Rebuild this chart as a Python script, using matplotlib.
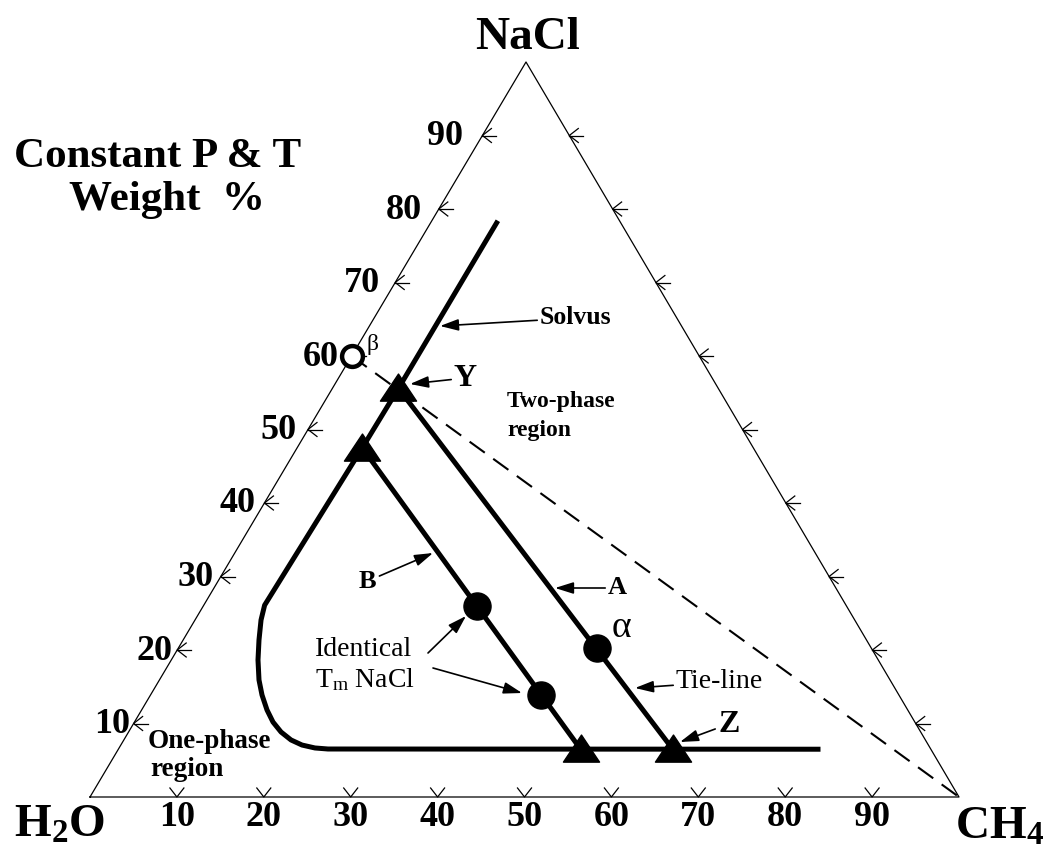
import matplotlib
matplotlib.use("Agg")
import matplotlib.pyplot as plt
from matplotlib.path import Path

plt.rcParams['font.family'] = ['Liberation Serif', 'DejaVu Serif']
plt.rcParams['mathtext.fontset'] = 'custom'
plt.rcParams['mathtext.rm'] = 'Liberation Serif'
plt.rcParams['mathtext.bf'] = 'Liberation Serif:bold'
plt.rcParams['mathtext.it'] = 'Liberation Serif:italic'

# compositions in weight %: (CH4, NaCl), H2O makes up the rest
solvus_ch4 = [7.6, 7.6, 7.5, 7.0, 7.6, 8.73, 9.98, 11.46, 12.83, 14.43, 15.94,
              17.55, 19.24, 20.85, 22.54, 24.11, 80.8]
solvus_nacl = [78.4, 55.6, 47.5, 26.1, 24.08, 21.36, 18.64, 15.92, 13.88, 11.84, 10.2,
               8.84, 7.76, 7.07, 6.67, 6.53, 6.5]

tie_a_ch4 = [7.6, 63.8]
tie_a_nacl = [55.6, 6.5]
tie_b_ch4 = [7.5, 53.2]
tie_b_nacl = [47.5, 6.5]

tri_ch4 = [7.6, 7.5, 53.2, 63.8]
tri_nacl = [55.6, 47.5, 6.5, 6.5]

dot_ch4 = [31.5, 44.9, 48.2]
dot_nacl = [26.0, 13.9, 20.3]

beta_ch4 = [0.0]
beta_nacl = [60.0]

dash_ch4 = [0.0, 100.0]
dash_nacl = [60.0, 0.0]

tick_vals = [10, 20, 30, 40, 50, 60, 70, 80, 90]

# triangle corners on the canvas (pixels)
H2O_XY = (90.0, 797.0)
CH4_XY = (959.0, 797.0)
NACL_XY = (526.0, 62.0)


def tern(ch4, nacl):
    c = [v / 100.0 for v in ch4]
    n = [v / 100.0 for v in nacl]
    x = [H2O_XY[0] + ci * (CH4_XY[0] - H2O_XY[0]) + ni * (NACL_XY[0] - H2O_XY[0]) for ci, ni in zip(c, n)]
    y = [H2O_XY[1] + ci * (CH4_XY[1] - H2O_XY[1]) + ni * (NACL_XY[1] - H2O_XY[1]) for ci, ni in zip(c, n)]
    return x, y


fig = plt.figure(figsize=(10.52, 8.56), dpi=100)
ax = fig.add_axes([0, 0, 1, 1])
ax.set_xlim(0, 1052)
ax.set_ylim(856, 0)
ax.axis('off')

# outline
ox, oy = tern([0, 100, 0, 0], [0, 0, 100, 0])
ax.plot(ox, oy, color='k', lw=0.9, zorder=1)

# ticks
for t in tick_vals:
    bx, by = tern([t], [0])
    ax.plot([bx[0] - 7, bx[0], bx[0] + 7], [by[0] - 9, by[0], by[0] - 9], color='k', lw=0.9)
    ax.text(bx[0], by[0] + 21, str(t), ha='center', va='center', fontsize=26, fontweight='bold')
    lx, ly = tern([0], [t])
    ax.plot([lx[0] + 9, lx[0], lx[0] + 9], [ly[0] - 7, ly[0], ly[0] + 7], color='k', lw=0.9)
    ax.plot([lx[0], lx[0] + 14], [ly[0], ly[0]], color='k', lw=0.9)
    gap = 3 + 2.0 * (t - 10) / 10
    ax.text(lx[0] - gap, ly[0] + 1, str(t), ha='right', va='center', fontsize=26, fontweight='bold')
    rx, ry = tern([100 - t], [t])
    ax.plot([rx[0] + 9, rx[0], rx[0] + 9], [ry[0] - 7, ry[0], ry[0] + 7], color='k', lw=0.9)
    ax.plot([rx[0], rx[0] + 14], [ry[0], ry[0]], color='k', lw=0.9)

# projection from CH4 through Y
dx, dy = tern(dash_ch4, dash_nacl)
ax.plot(dx, dy, color='k', lw=1.5, dashes=(9, 5), zorder=2)

sx, sy = tern(solvus_ch4, solvus_nacl)
ax.plot(sx, sy, color='k', lw=3.6, solid_capstyle='butt', solid_joinstyle='round', zorder=3)
ax_, ay_ = tern(tie_a_ch4, tie_a_nacl)
ax.plot(ax_, ay_, color='k', lw=3.6, zorder=3)
bx_, by_ = tern(tie_b_ch4, tie_b_nacl)
ax.plot(bx_, by_, color='k', lw=3.6, zorder=3)

tri_marker = Path([(-1, -0.7), (1, -0.7), (0, 0.8), (-1, -0.7)], closed=True)
tx, ty = tern(tri_ch4, tri_nacl)
ax.plot(tx, ty, ls='none', marker=tri_marker, ms=26, color='k', zorder=4)
px, py = tern(dot_ch4, dot_nacl)
ax.plot(px, py, ls='none', marker='o', ms=19.5, color='k', zorder=4)
qx, qy = tern(beta_ch4, beta_nacl)
ax.plot(qx, qy, ls='none', marker='o', ms=15, mfc='white', mec='k', mew=3.2, zorder=4)

# corner labels
ax.text(527, 38, 'NaCl', ha='center', va='center', fontsize=34, fontweight='bold')
ax.text(60, 826, r'H$_{\bf 2}$O', ha='center', va='center', fontsize=34, fontweight='bold')
ax.text(1000, 828, r'CH$_{\bf 4}$', ha='center', va='center', fontsize=34, fontweight='bold')

ax.text(158, 157, 'Constant P & T', ha='center', va='center', fontsize=31, fontweight='bold')
ax.text(167, 200, 'Weight  %', ha='center', va='center', fontsize=31, fontweight='bold')

# region labels
ax.text(507, 401, 'Two-phase', ha='left', va='center', fontsize=17, fontweight='bold')
ax.text(507, 430, 'region', ha='left', va='center', fontsize=17, fontweight='bold')
ax.text(148, 742, 'One-phase', ha='left', va='center', fontsize=19.5, fontweight='bold')
ax.text(150, 770, 'region', ha='left', va='center', fontsize=19.5, fontweight='bold')

ax.text(367, 344, 'β', ha='left', va='center', fontsize=17)
ax.text(612, 628, 'α', ha='left', va='center', fontsize=27)

arrow = dict(arrowstyle='-|>,head_length=0.7,head_width=0.22', color='k', lw=1.2,
             mutation_scale=16, shrinkA=0, shrinkB=0)
ax.annotate('Solvus', xy=(440, 326), xytext=(540, 318), ha='left', va='center',
            fontsize=18.5, fontweight='bold', arrowprops=arrow)
ax.annotate('Y', xy=(410, 384), xytext=(454, 378), ha='left', va='center',
            fontsize=23, fontweight='bold', arrowprops=arrow)
ax.annotate('A', xy=(555, 588), xytext=(608, 588), ha='left', va='center',
            fontsize=19, fontweight='bold', arrowprops=arrow)
ax.annotate('B', xy=(433, 553), xytext=(359, 581), ha='left', va='center',
            fontsize=19, fontweight='bold', arrowprops=arrow)
ax.annotate('Tie-line', xy=(635, 688), xytext=(676, 682), ha='left', va='center',
            fontsize=20, arrowprops=arrow)
ax.annotate('Z', xy=(680, 742), xytext=(718, 724), ha='left', va='center',
            fontsize=23, fontweight='bold', arrowprops=arrow)

ax.text(364, 650, 'Identical', ha='center', va='center', fontsize=20)
ax.text(365, 680, r'T$_{\rm m}$ NaCl', ha='center', va='center', fontsize=20)
ax.annotate('', xy=(466, 616), xytext=(428, 653), arrowprops=arrow)
ax.annotate('', xy=(522, 693), xytext=(433, 668), arrowprops=arrow)

fig.savefig('out.png', dpi=100)
